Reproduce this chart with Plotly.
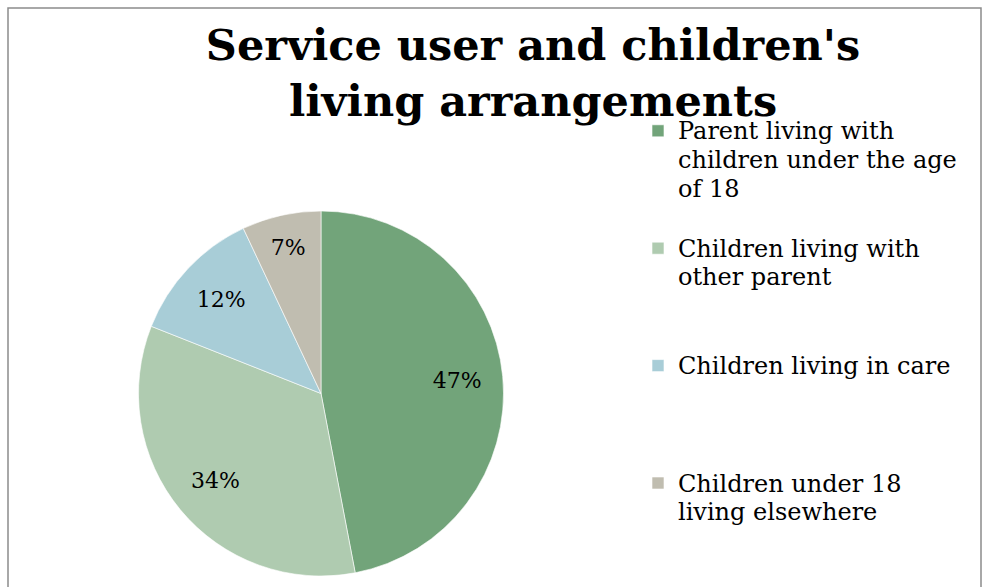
import plotly.graph_objects as go

categories = [
    "Parent living with<br>children under the age<br>of 18",
    "Children living with<br>other parent",
    "Children living in care",
    "Children under 18<br>living elsewhere",
]
values = [47, 34, 12, 7]
colors = ["#72A47A", "#AFCBB0", "#A8CDD7", "#C0BDB0"]

W, H = 988, 587
FONT = "DejaVu Serif"

# pad legend labels to equal height (4 lines) so entries are evenly spaced
def legend_label(t, n=4):
    lines = t.split("<br>")
    lines += ["\u00a0"] * (n - len(lines))
    return "<span style='font-size:24px'>" + "<br>".join(lines) + "</span>"

legend_labels = [legend_label(c) for c in categories]
legend_labels[-1] = "<span style='font-size:24px'>" + categories[-1] + "</span>"

domain = dict(x=[138 / W, 504 / W], y=[1 - 576 / H, 1 - 211 / H])

fig = go.Figure()
fig.add_trace(
    go.Pie(
        labels=legend_labels,
        values=values,
        sort=False,
        direction="clockwise",
        rotation=0,
        marker=dict(colors=colors, line=dict(color="white", width=0.6)),
        textinfo="none",
        domain=domain,
        hoverinfo="percent",
    )
)
# transparent ring that carries the percentage labels at ~3/4 of the radius
fig.add_trace(
    go.Pie(
        labels=legend_labels,
        values=values,
        sort=False,
        direction="clockwise",
        rotation=0,
        hole=0.5,
        marker=dict(colors=["rgba(0,0,0,0)"] * 4, line=dict(width=0)),
        texttemplate="%{percent:.0%}",
        textposition="inside",
        insidetextorientation="horizontal",
        textfont=dict(family=FONT, size=22, color="black"),
        domain=domain,
        showlegend=False,
        hoverinfo="skip",
    )
)

fig.update_layout(
    width=W,
    height=H,
    margin=dict(l=0, r=0, t=0, b=0),
    paper_bgcolor="white",
    plot_bgcolor="white",
    title=dict(
        text="<b>Service user and children's<br>living arrangements</b>",
        font=dict(family=FONT, size=43, color="black"),
        x=533 / W,
        xanchor="center",
        xref="paper",
        y=1 - 60 / H,
        yanchor="top",
        yref="container",
    ),
    legend=dict(
        x=638 / W,
        xanchor="left",
        y=1 - 110 / H,
        yanchor="top",
        font=dict(family=FONT, size=22, color="black"),
        valign="top",
        bgcolor="rgba(0,0,0,0)",
    ),
    showlegend=True,
    shapes=[
        dict(
            type="rect",
            xref="paper",
            yref="paper",
            x0=8 / W,
            x1=981 / W,
            y0=-0.05,
            y1=1 - 8 / H,
            line=dict(color="#8C8C8C", width=1.5),
            fillcolor="rgba(0,0,0,0)",
            layer="below",
        )
    ],
)

fig.write_html("out.html")
